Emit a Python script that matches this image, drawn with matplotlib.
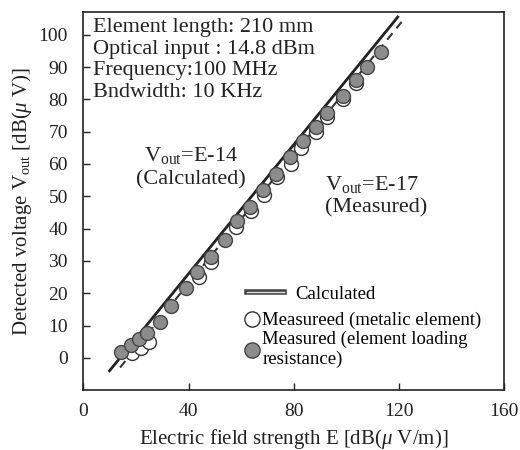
import numpy as np
import matplotlib
matplotlib.use('Agg')
import matplotlib.pyplot as plt
from matplotlib.lines import Line2D
import matplotlib.patheffects as pe

plt.rcParams['font.family'] = ['Liberation Serif', 'DejaVu Serif']
plt.rcParams['mathtext.fontset'] = 'custom'
plt.rcParams['mathtext.rm'] = 'Liberation Serif'
plt.rcParams['mathtext.it'] = 'Liberation Serif:italic'

# calculated / fitted lines: V = E - offset
calc_E = [10, 119.5]
calc_off = 14
meas_E = [14, 121]
meas_off = 17

# measured, element loading resistance (filled)
fill_E = [14.3, 18.1, 21.2, 24.1, 29.1, 33.5, 39.0, 43.4, 48.5, 53.8, 58.5,
          63.5, 68.2, 73.3, 78.6, 83.6, 88.6, 92.8, 98.5, 103.6, 107.9, 113.2]
fill_V = [1.9, 4.0, 5.9, 7.6, 11.2, 16.1, 21.6, 26.7, 31.2, 36.5, 42.5,
          46.8, 51.8, 57.0, 62.3, 67.0, 71.6, 75.9, 81.1, 86.1, 90.0, 94.8]
# measured, metallic element (open)
open_E = [18.6, 21.9, 25.0, 43.8, 48.6, 58.1, 63.8, 68.5, 73.8, 78.8, 82.8,
          88.6, 92.8, 98.5, 103.6]
open_V = [1.5, 3.1, 5.0, 25.0, 29.8, 40.6, 45.3, 50.5, 55.9, 60.1, 64.9,
          70.0, 74.5, 80.0, 85.0]

info = ['Element length: 210 mm', 'Optical input : 14.8 dBm',
        'Frequency:100 MHz', 'Bndwidth: 10 KHz']

ink = '#222222'
fig = plt.figure(figsize=(5.2, 4.5), dpi=100)
ax = fig.add_axes([0.16, 0.133, 0.81, 0.84])

ax.plot(calc_E, np.array(calc_E) - calc_off, color=ink, lw=2, zorder=2)
ax.plot(meas_E, np.array(meas_E) - meas_off, color='#333333', lw=1.5,
        ls=(0, (4, 3)), zorder=2)
ax.plot(open_E, open_V, 'o', ms=10, mfc='white', mec='#333333', mew=1,
        zorder=3)
ax.plot(fill_E, fill_V, 'o', ms=10, mfc='#8c8c8c', mec='#444444', mew=1,
        zorder=4)

ax.set_xlim(0, 160)
ax.set_ylim(-10, 107)
ax.set_xticks([0, 40, 80, 120, 160])
ax.set_yticks(np.arange(0, 101, 10))
ax.tick_params(direction='in', length=5, width=1, labelsize=14, colors=ink)
ax.tick_params(axis='y', pad=11)
ax.tick_params(axis='x', pad=9)
for s in ax.spines.values():
    s.set_linewidth(1.2)
    s.set_color(ink)

ax.set_xlabel(r'Electric field strength E [dB($\mu$ V/m)]', fontsize=15,
              color=ink, labelpad=5)
ax.set_ylabel(r'Detected voltage V$_{\mathrm{out}}$ [dB($\mu$ V)]', fontsize=15,
              color=ink, labelpad=3)

for i, t in enumerate(info):
    ax.text(3.6, 100.9 - i * 6.7, t, fontsize=16, va='baseline', ha='left',
            color=ink)

ax.text(41, 62.5, r'V$_{\mathrm{out}}$=E-14', fontsize=16, ha='center',
        va='center', color=ink)
ax.text(41, 55, '(Calculated)', fontsize=16, ha='center', va='center',
        color=ink)
ax.text(92, 53.5, r'V$_{\mathrm{out}}$=E-17', fontsize=16, ha='left',
        va='center', color=ink)
ax.text(92, 46.3, '(Measured)', fontsize=16, ha='left', va='center',
        color=ink)

calc_handle = Line2D([], [], color='#dddddd', lw=1,
                     path_effects=[pe.Stroke(linewidth=4, foreground='#444444'),
                                   pe.Normal()])
leg1 = ax.legend([calc_handle], ['Calculated'], loc='upper left',
                 bbox_to_anchor=(0.37, 0.297), frameon=False, fontsize=13.5,
                 handlelength=2.0, handletextpad=0.6, borderaxespad=0)
ax.add_artist(leg1)

handles = [Line2D([], [], marker='o', ls='none', ms=11, mfc='white', mec='#333333'),
           Line2D([], [], marker='o', ls='none', ms=11, mfc='#8c8c8c', mec='#444444')]
labels = ['Measureed (metalic element)',
          'Measured (element loading\nresistance)']
ax.legend(handles, labels, loc='upper left', bbox_to_anchor=(0.365, 0.227),
          frameon=False, fontsize=13.5, handlelength=0.8, handletextpad=0.15,
          labelspacing=0.1, borderaxespad=0)

fig.savefig('out.png', dpi=100)
